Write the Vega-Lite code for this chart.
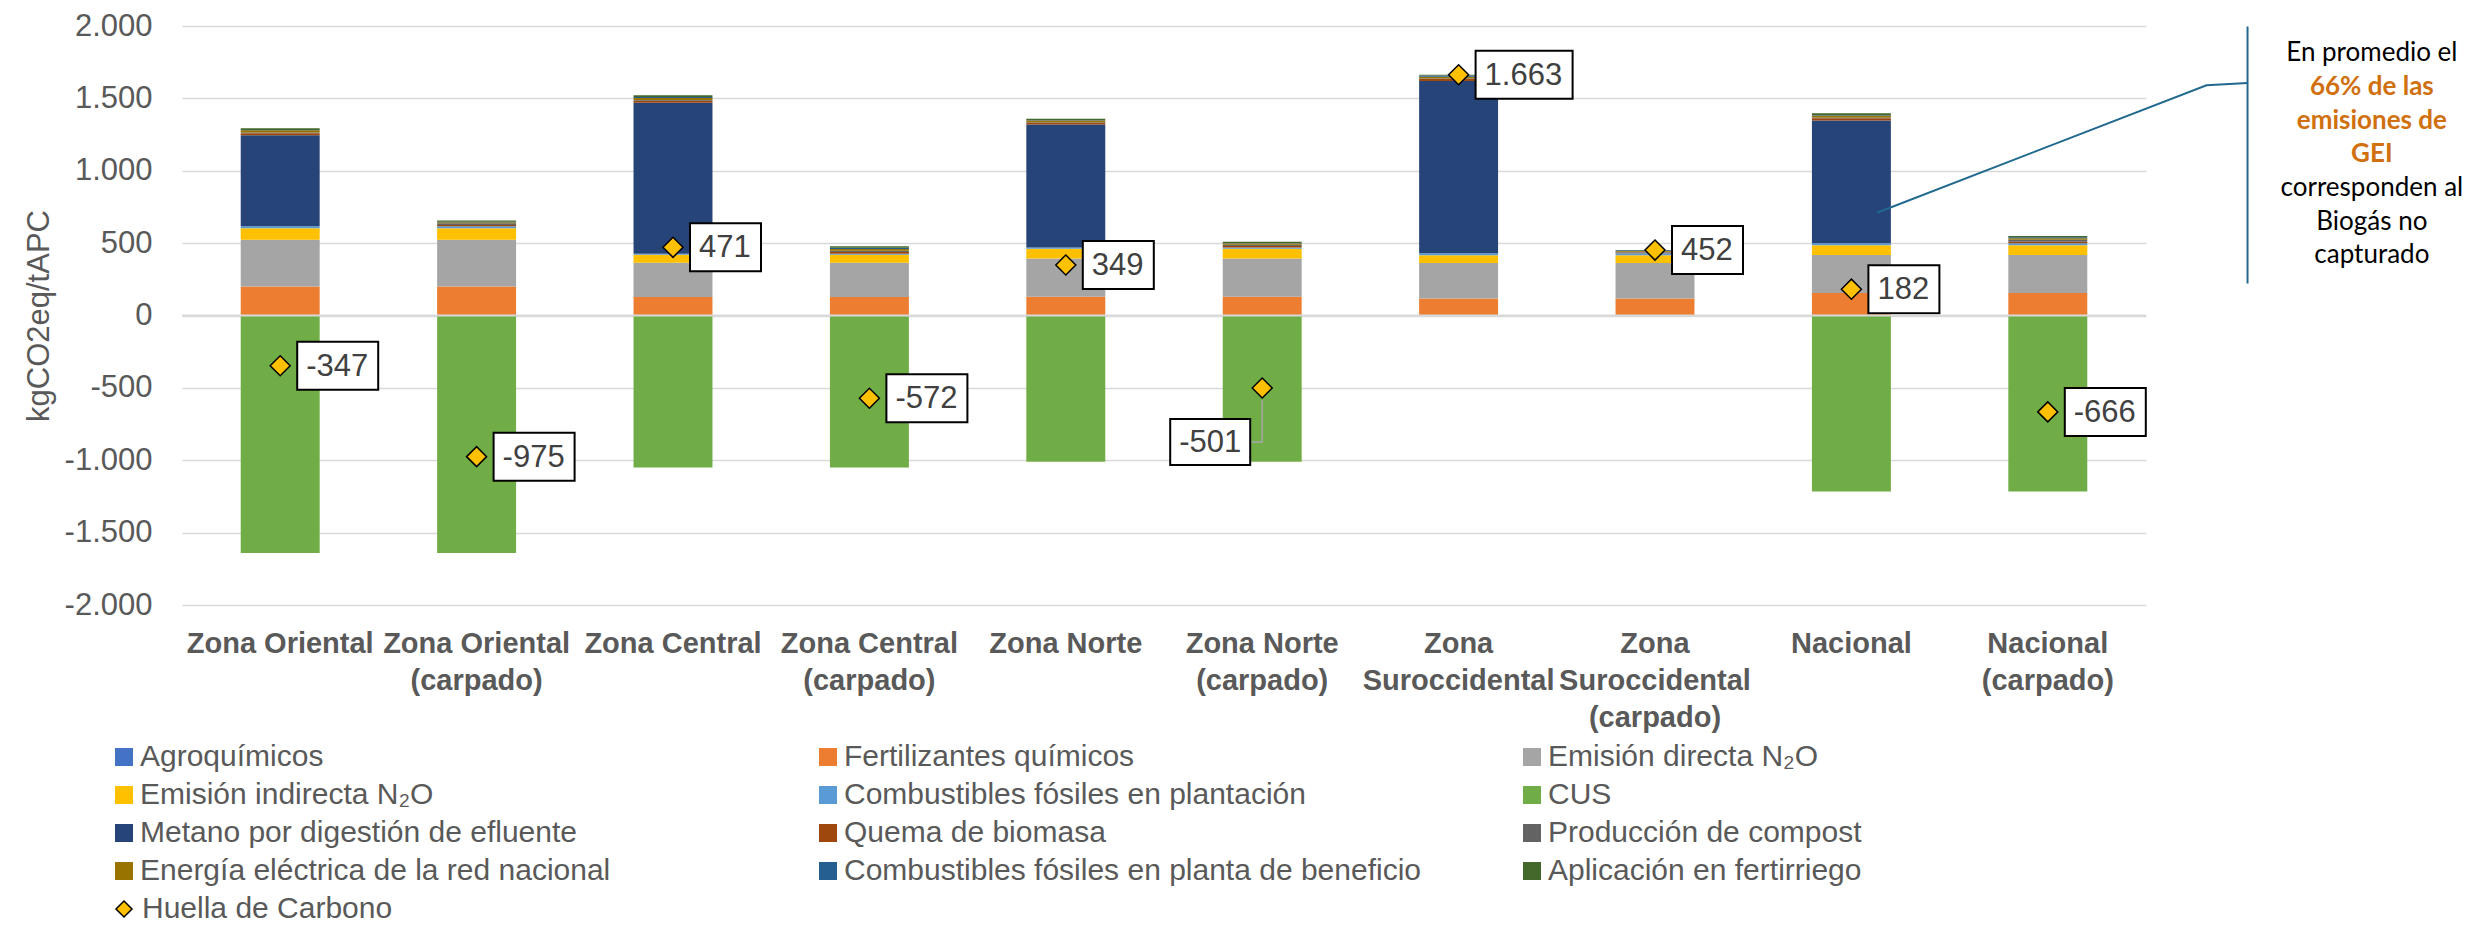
{
  "$schema": "https://vega.github.io/schema/vega-lite/v6.json",
  "width": 1964,
  "height": 579,
  "autosize": {"type": "none"},
  "padding": {"left": 182, "top": 26, "right": 338, "bottom": 333},
  "background": "#ffffff",
  "config": {
    "view": {"stroke": null},
    "font": "Liberation Sans",
    "locale": {"number": {"decimal": ",", "thousands": ".", "grouping": [3], "currency": ["", " €"], "minus": "-"}}
  },
  "datasets": {
    "emisiones": [
      {"zona": "Zona Oriental", "agro": 3, "fert": 198, "dir": 322, "ind": 80, "combpl": 14, "cus": -1640, "metano": 628, "quema": 14, "compost": 6, "energia": 14, "combben": 2, "fertirr": 12},
      {"zona": "Zona Oriental (carpado)", "agro": 3, "fert": 198, "dir": 322, "ind": 80, "combpl": 14, "cus": -1640, "metano": 0, "quema": 8, "compost": 12, "energia": 8, "combben": 3, "fertirr": 8},
      {"zona": "Zona Central", "agro": 2, "fert": 125, "dir": 237, "ind": 55, "combpl": 8, "cus": -1050, "metano": 1043, "quema": 14, "compost": 4, "energia": 14, "combben": 8, "fertirr": 11},
      {"zona": "Zona Central (carpado)", "agro": 2, "fert": 125, "dir": 237, "ind": 55, "combpl": 8, "cus": -1050, "metano": 0, "quema": 12, "compost": 8, "energia": 12, "combben": 9, "fertirr": 10},
      {"zona": "Zona Norte", "agro": 2, "fert": 127, "dir": 265, "ind": 68, "combpl": 8, "cus": -1010, "metano": 850, "quema": 12, "compost": 3, "energia": 12, "combben": 2, "fertirr": 10},
      {"zona": "Zona Norte (carpado)", "agro": 2, "fert": 127, "dir": 265, "ind": 68, "combpl": 8, "cus": -1010, "metano": 0, "quema": 10, "compost": 8, "energia": 10, "combben": 2, "fertirr": 9},
      {"zona": "Zona Suroccidental", "agro": 2, "fert": 115, "dir": 245, "ind": 55, "combpl": 13, "cus": 0, "metano": 1190, "quema": 14, "compost": 4, "energia": 12, "combben": 8, "fertirr": 5},
      {"zona": "Zona Suroccidental (carpado)", "agro": 2, "fert": 115, "dir": 245, "ind": 55, "combpl": 13, "cus": 0, "metano": 0, "quema": 6, "compost": 4, "energia": 5, "combben": 5, "fertirr": 2},
      {"zona": "Nacional", "agro": 3, "fert": 153, "dir": 262, "ind": 68, "combpl": 14, "cus": -1216, "metano": 848, "quema": 14, "compost": 6, "energia": 14, "combben": 4, "fertirr": 12},
      {"zona": "Nacional (carpado)", "agro": 3, "fert": 153, "dir": 262, "ind": 68, "combpl": 14, "cus": -1216, "metano": 0, "quema": 10, "compost": 14, "energia": 10, "combben": 6, "fertirr": 10}
    ],
    "series": [
      {"clave": "agro", "serie": "Agroquímicos", "orden": 1},
      {"clave": "fert", "serie": "Fertilizantes químicos", "orden": 2},
      {"clave": "dir", "serie": "Emisión directa N₂O", "orden": 3},
      {"clave": "ind", "serie": "Emisión indirecta N₂O", "orden": 4},
      {"clave": "combpl", "serie": "Combustibles fósiles en plantación", "orden": 5},
      {"clave": "cus", "serie": "CUS", "orden": 6},
      {"clave": "metano", "serie": "Metano por digestión de efluente", "orden": 7},
      {"clave": "quema", "serie": "Quema de biomasa", "orden": 8},
      {"clave": "compost", "serie": "Producción de compost", "orden": 9},
      {"clave": "energia", "serie": "Energía eléctrica de la red nacional", "orden": 10},
      {"clave": "combben", "serie": "Combustibles fósiles en planta de beneficio", "orden": 11},
      {"clave": "fertirr", "serie": "Aplicación en fertirriego", "orden": 12}
    ],
    "huella": [
      {"zona": "Zona Oriental", "huella": -347, "serie": "Huella de Carbono"},
      {"zona": "Zona Oriental (carpado)", "huella": -975, "serie": "Huella de Carbono"},
      {"zona": "Zona Central", "huella": 471, "serie": "Huella de Carbono"},
      {"zona": "Zona Central (carpado)", "huella": -572, "serie": "Huella de Carbono"},
      {"zona": "Zona Norte", "huella": 349, "serie": "Huella de Carbono"},
      {"zona": "Zona Norte (carpado)", "huella": -501, "serie": "Huella de Carbono"},
      {"zona": "Zona Suroccidental", "huella": 1663, "serie": "Huella de Carbono"},
      {"zona": "Zona Suroccidental (carpado)", "huella": 452, "serie": "Huella de Carbono"},
      {"zona": "Nacional", "huella": 182, "serie": "Huella de Carbono"},
      {"zona": "Nacional (carpado)", "huella": -666, "serie": "Huella de Carbono"}
    ],
    "nota": [
      {"x": 11.15, "y": 1813, "texto": "En promedio el", "grupo": "normal"},
      {"x": 11.15, "y": 1580, "texto": "66% de las", "grupo": "destacado"},
      {"x": 11.15, "y": 1347, "texto": "emisiones de", "grupo": "destacado"},
      {"x": 11.15, "y": 1114, "texto": "GEI", "grupo": "destacado"},
      {"x": 11.15, "y": 882, "texto": "corresponden al", "grupo": "normal"},
      {"x": 11.15, "y": 649, "texto": "Biogás no", "grupo": "normal"},
      {"x": 11.15, "y": 416, "texto": "capturado", "grupo": "normal"}
    ],
    "conector": [
      {"x": 8.63, "y": 710},
      {"x": 10.308, "y": 1590},
      {"x": 10.517, "y": 1606}
    ],
    "barra": [
      {"x": 10.517, "y": 1997, "y2": 221}
    ]
  },
  "layer": [
    {
      "encoding": {
        "x": {
          "field": "zona", "type": "nominal", "title": null,
          "scale": {
            "domain": ["Zona Oriental", "Zona Oriental (carpado)", "Zona Central", "Zona Central (carpado)", "Zona Norte", "Zona Norte (carpado)", "Zona Suroccidental", "Zona Suroccidental (carpado)", "Nacional", "Nacional (carpado)"],
            "paddingInner": 0.598, "paddingOuter": 0.299
          },
          "axis": {
            "labelExpr": "split(replace(replace(datum.label, ' (carpado)', '|(carpado)'), 'Zona Suroccidental', 'Zona|Suroccidental'), '|')",
            "labelFont": "Liberation Sans", "labelFontSize": 29, "labelFontWeight": "bold", "labelColor": "#595959",
            "labelPadding": 24, "labelLineHeight": 37, "labelAngle": 0, "labelLimit": 600, "labelOverlap": false,
            "labelBaseline": "top",
            "ticks": false, "tickSize": 0, "domain": false, "grid": false
          }
        }
      },
      "layer": [
        {
          "data": {"name": "emisiones"},
          "transform": [
            {"fold": ["agro", "fert", "dir", "ind", "combpl", "cus", "metano", "quema", "compost", "energia", "combben", "fertirr"], "as": ["clave", "valor"]},
            {"lookup": "clave", "from": {"data": {"name": "series"}, "key": "clave", "fields": ["serie", "orden"]}}
          ],
          "mark": {"type": "bar"},
          "encoding": {
            "y": {
              "field": "valor", "type": "quantitative", "stack": "zero", "title": "kgCO2eq/tAPC",
              "scale": {"domain": [-2000, 2000], "nice": false, "zero": false},
              "axis": {
                "values": [-2000, -1500, -1000, -500, 0, 500, 1000, 1500, 2000],
                "format": ",.0f",
                "labelFont": "Liberation Sans", "labelFontSize": 31, "labelColor": "#595959", "labelPadding": 30,
                "ticks": false, "tickSize": 0, "domain": false,
                "grid": true, "gridColor": "#D9D9D9", "gridWidth": 1.5,
                "titleFont": "Liberation Sans", "titleFontSize": 31, "titleFontWeight": "normal", "titleColor": "#595959", "titlePadding": 9
              }
            },
            "color": {
              "field": "serie", "type": "nominal",
              "scale": {
                "domain": ["Agroquímicos", "Fertilizantes químicos", "Emisión directa N₂O", "Emisión indirecta N₂O", "Combustibles fósiles en plantación", "CUS", "Metano por digestión de efluente", "Quema de biomasa", "Producción de compost", "Energía eléctrica de la red nacional", "Combustibles fósiles en planta de beneficio", "Aplicación en fertirriego"],
                "range": ["#4472C4", "#ED7D31", "#A5A5A5", "#FFC000", "#5B9BD5", "#70AD47", "#264478", "#9E480E", "#636363", "#997300", "#255E91", "#43682B"]
              },
              "legend": {
                "orient": "none", "legendX": -73, "legendY": 716,
                "direction": "horizontal", "columns": 3, "title": null, "padding": 0,
                "symbolType": "square", "symbolSize": 324, "symbolStrokeWidth": 0,
                "labelFont": "Liberation Sans", "labelFontSize": 30, "labelColor": "#595959",
                "labelLimit": 800, "labelOffset": 1, "rowPadding": 8, "columnPadding": 95, "gridAlign": "all"
              }
            },
            "order": {"field": "orden", "type": "quantitative", "sort": "ascending"}
          }
        },
        {
          "data": {"name": "huella"},
          "transform": [{"filter": "datum.zona === 'Zona Norte (carpado)'"}],
          "mark": {"type": "point", "shape": "M0,12V54H-12", "size": 4, "filled": false, "stroke": "#A6A6A6", "strokeWidth": 1.5, "opacity": 1},
          "encoding": {
            "y": {"field": "huella", "type": "quantitative", "title": "kgCO2eq/tAPC", "scale": {"domain": [-2000, 2000], "nice": false, "zero": false}}
          }
        },
        {
          "data": {"name": "huella"},
          "mark": {"type": "point", "shape": "diamond", "size": 400, "filled": true, "fill": "#FFC000", "strokeWidth": 1.5, "opacity": 1},
          "encoding": {
            "y": {"field": "huella", "type": "quantitative", "title": "kgCO2eq/tAPC", "scale": {"domain": [-2000, 2000], "nice": false, "zero": false}},
            "stroke": {
              "field": "serie", "type": "nominal",
              "scale": {"domain": ["Huella de Carbono"], "range": ["#000000"]},
              "legend": {
                "orient": "none", "legendX": -73, "legendY": 868, "title": null, "padding": 0,
                "symbolType": "diamond", "symbolSize": 256, "symbolStrokeWidth": 1.5, "symbolFillColor": "#FFC000",
                "labelFont": "Liberation Sans", "labelFontSize": 30, "labelColor": "#595959",
                "labelLimit": 800, "labelOffset": 3
              }
            }
          }
        },
        {
          "data": {"name": "huella"},
          "transform": [{"filter": "datum.huella >= 0 && datum.huella < 1000"}],
          "mark": {"type": "point", "shape": "M17,-24H88V24H17Z", "size": 4, "filled": true, "fill": "#FFFFFF", "stroke": "#000000", "strokeWidth": 2, "opacity": 1},
          "encoding": {
            "y": {"field": "huella", "type": "quantitative", "title": "kgCO2eq/tAPC", "scale": {"domain": [-2000, 2000], "nice": false, "zero": false}}
          }
        },
        {
          "data": {"name": "huella"},
          "transform": [{"filter": "datum.huella >= 1000"}],
          "mark": {"type": "point", "shape": "M17,-24H114V24H17Z", "size": 4, "filled": true, "fill": "#FFFFFF", "stroke": "#000000", "strokeWidth": 2, "opacity": 1},
          "encoding": {
            "y": {"field": "huella", "type": "quantitative", "title": "kgCO2eq/tAPC", "scale": {"domain": [-2000, 2000], "nice": false, "zero": false}}
          }
        },
        {
          "data": {"name": "huella"},
          "transform": [{"filter": "datum.huella < 0 && datum.zona !== 'Zona Norte (carpado)'"}],
          "mark": {"type": "point", "shape": "M17,-24H98V24H17Z", "size": 4, "filled": true, "fill": "#FFFFFF", "stroke": "#000000", "strokeWidth": 2, "opacity": 1},
          "encoding": {
            "y": {"field": "huella", "type": "quantitative", "title": "kgCO2eq/tAPC", "scale": {"domain": [-2000, 2000], "nice": false, "zero": false}}
          }
        },
        {
          "data": {"name": "huella"},
          "transform": [{"filter": "datum.zona === 'Zona Norte (carpado)'"}],
          "mark": {"type": "point", "shape": "M-92,31H-12V77H-92Z", "size": 4, "filled": true, "fill": "#FFFFFF", "stroke": "#000000", "strokeWidth": 2, "opacity": 1},
          "encoding": {
            "y": {"field": "huella", "type": "quantitative", "title": "kgCO2eq/tAPC", "scale": {"domain": [-2000, 2000], "nice": false, "zero": false}}
          }
        },
        {
          "data": {"name": "huella"},
          "transform": [{"filter": "datum.zona !== 'Zona Norte (carpado)'"}],
          "mark": {"type": "text", "align": "left", "baseline": "middle", "dx": 26, "dy": 1, "font": "Liberation Sans", "fontSize": 31, "color": "#404040"},
          "encoding": {
            "y": {"field": "huella", "type": "quantitative", "title": "kgCO2eq/tAPC", "scale": {"domain": [-2000, 2000], "nice": false, "zero": false}},
            "text": {"field": "huella", "type": "quantitative", "format": ",.0f"}
          }
        },
        {
          "data": {"name": "huella"},
          "transform": [{"filter": "datum.zona === 'Zona Norte (carpado)'"}],
          "mark": {"type": "text", "align": "center", "baseline": "middle", "dx": -52, "dy": 55, "font": "Liberation Sans", "fontSize": 31, "color": "#404040"},
          "encoding": {
            "y": {"field": "huella", "type": "quantitative", "title": "kgCO2eq/tAPC", "scale": {"domain": [-2000, 2000], "nice": false, "zero": false}},
            "text": {"field": "huella", "type": "quantitative", "format": ",.0f"}
          }
        }
      ]
    },
    {
      "layer": [
        {
          "data": {"values": [{}]},
          "mark": {"type": "rule", "color": "#D9D9D9", "strokeWidth": 2},
          "encoding": {
            "y": {"datum": 0, "type": "quantitative", "axis": null, "scale": {"domain": [-2000, 2000], "nice": false, "zero": false}}
          }
        },
        {
          "data": {"name": "barra"},
          "mark": {"type": "rule", "color": "#21698E", "strokeWidth": 2},
          "encoding": {
            "x": {"field": "x", "type": "quantitative", "axis": null, "scale": {"domain": [0, 10], "nice": false, "zero": false}},
            "y": {"field": "y", "type": "quantitative", "axis": null, "scale": {"domain": [-2000, 2000], "nice": false, "zero": false}},
            "y2": {"field": "y2"}
          }
        },
        {
          "data": {"name": "conector"},
          "mark": {"type": "line", "color": "#21698E", "strokeWidth": 2},
          "encoding": {
            "x": {"field": "x", "type": "quantitative", "axis": null, "scale": {"domain": [0, 10], "nice": false, "zero": false}},
            "y": {"field": "y", "type": "quantitative", "axis": null, "scale": {"domain": [-2000, 2000], "nice": false, "zero": false}}
          }
        },
        {
          "data": {"name": "nota"},
          "transform": [{"filter": "datum.grupo === 'normal'"}],
          "mark": {"type": "text", "align": "center", "baseline": "middle", "font": "Lato", "fontSize": 26, "color": "#000000"},
          "encoding": {
            "x": {"field": "x", "type": "quantitative", "axis": null, "scale": {"domain": [0, 10], "nice": false, "zero": false}},
            "y": {"field": "y", "type": "quantitative", "axis": null, "scale": {"domain": [-2000, 2000], "nice": false, "zero": false}},
            "text": {"field": "texto"}
          }
        },
        {
          "data": {"name": "nota"},
          "transform": [{"filter": "datum.grupo === 'destacado'"}],
          "mark": {"type": "text", "align": "center", "baseline": "middle", "font": "Lato", "fontSize": 26, "fontWeight": "bold", "color": "#D0700F"},
          "encoding": {
            "x": {"field": "x", "type": "quantitative", "axis": null, "scale": {"domain": [0, 10], "nice": false, "zero": false}},
            "y": {"field": "y", "type": "quantitative", "axis": null, "scale": {"domain": [-2000, 2000], "nice": false, "zero": false}},
            "text": {"field": "texto"}
          }
        }
      ]
    }
  ],
  "resolve": {"scale": {"x": "independent"}, "axis": {"y": "independent"}}
}
